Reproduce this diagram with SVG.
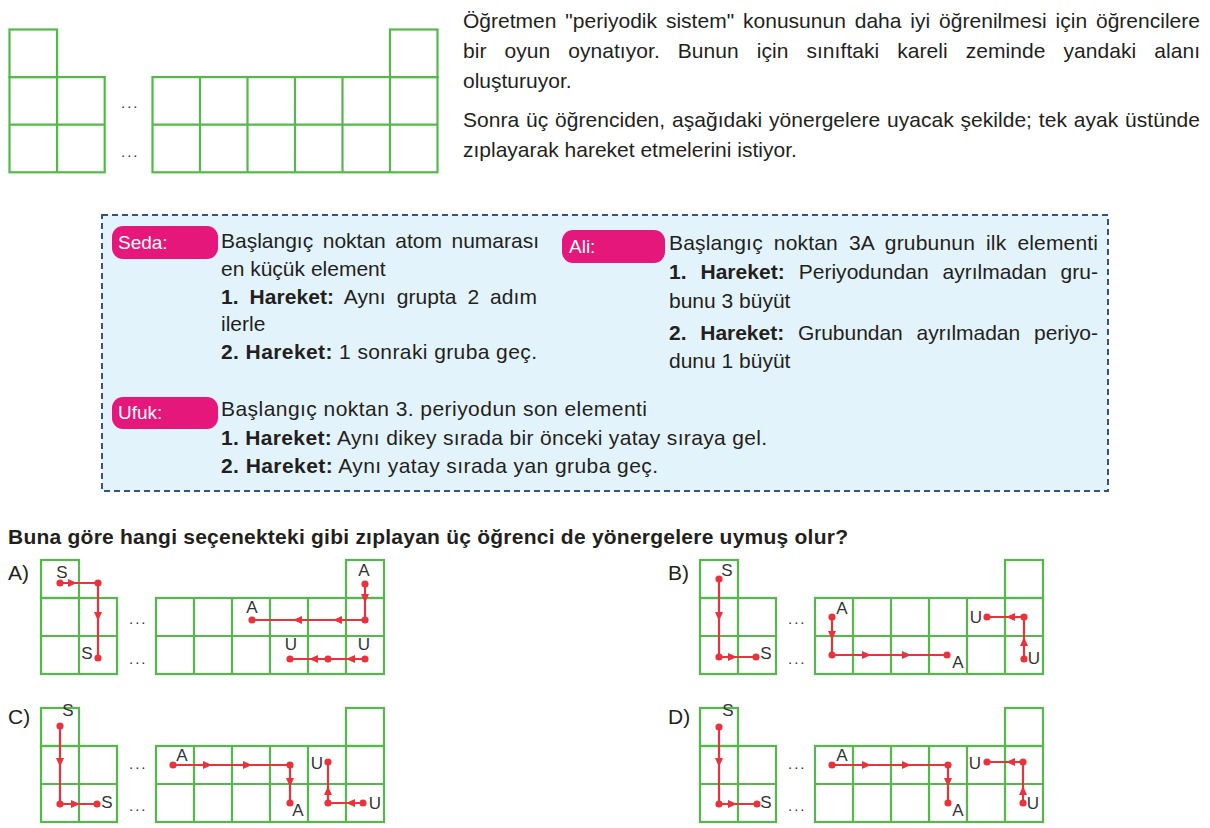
<svg xmlns="http://www.w3.org/2000/svg" xmlns:xlink="http://www.w3.org/1999/xlink" width="1210" height="828" viewBox="0 0 1210 828">
<style>
.t{font-family:"Liberation Sans",Arial,sans-serif;font-size:21px;fill:#231f20}
.b{font-weight:bold}
.gr{fill:none;stroke:#55b84a;stroke-width:2.2}
.rl{fill:none;stroke:#e8333d;stroke-width:2.2}
.lb{font-family:"Liberation Sans",Arial,sans-serif;font-size:17px;fill:#333;text-anchor:middle}
.pill{fill:#e5177b}
.pt{font-family:"Liberation Sans",Arial,sans-serif;font-size:19px;fill:#fff}
.dots{font-family:"Liberation Sans",Arial,sans-serif;font-size:15px;fill:#333;letter-spacing:2px}
.ol{font-family:"Liberation Sans",Arial,sans-serif;font-size:21px;fill:#231f20}
</style>
<defs>
<path id="ah" d="M-5,-4 L4,0 L-5,4 Z" fill="#e8333d"/>
<circle id="dt" r="3.6" fill="#e8333d"/>
<g id="sg" class="gr">
<rect x="0" y="0" width="38" height="38"/>
<rect x="0" y="38" width="76" height="76"/>
<path d="M38,38V114M0,76H76"/>
<rect x="115" y="38" width="228" height="76"/>
<path d="M153,38V114M191,38V114M229,38V114M267,38V114M305,38V114M115,76H343"/>
<rect x="305" y="0" width="38" height="38"/>
</g>
</defs>

<g id="top-grid" class="gr" transform="translate(9.5,29.5)">
<rect x="0" y="0" width="47.6" height="47.6"/>
<rect x="0" y="47.6" width="95.2" height="95.2"/>
<path d="M47.6,47.6V142.8M0,95.2H95.2"/>
<rect x="143" y="47.6" width="285" height="95.2"/>
<path d="M190.5,47.6V142.8M238,47.6V142.8M285.5,47.6V142.8M333,47.6V142.8M380.5,47.6V142.8M143,95.2H428"/>
<rect x="380.5" y="0" width="47.5" height="47.6"/>
</g>
<g id="top-dots">
<text class="dots" x="121" y="108">...</text>
<text class="dots" x="121" y="157">...</text>
</g>

<g id="intro" class="t">
<text x="463" y="28" word-spacing="3" textLength="737" lengthAdjust="spacing">Öğretmen "periyodik sistem" konusunun daha iyi öğrenilmesi için öğrencilere</text>
<text x="463" y="58" word-spacing="12" textLength="737" lengthAdjust="spacing">bir oyun oynatıyor. Bunun için sınıftaki kareli zeminde yandaki alanı</text>
<text x="463" y="88">oluşturuyor.</text>
<text x="463" y="127" word-spacing="1" textLength="737" lengthAdjust="spacing">Sonra üç öğrenciden, aşağıdaki yönergelere uyacak şekilde; tek ayak üstünde</text>
<text x="463" y="157">zıplayarak hareket etmelerini istiyor.</text>
</g>

<g id="rules-box">
<rect x="102" y="215" width="1006" height="276" fill="#e3f3fb" stroke="#34528a" stroke-width="2" stroke-dasharray="6,4"/>
</g>

<g id="seda">
<rect class="pill" x="112" y="226" width="106" height="33" rx="11"/>
<text class="pt" x="118" y="249">Seda:</text>
<g class="t">
<text x="221" y="248" word-spacing="3.7" textLength="318" lengthAdjust="spacing">Başlangıç noktan atom numarası</text>
<text x="221" y="276">en küçük element</text>
<text x="221" y="304" word-spacing="5" textLength="316" lengthAdjust="spacing"><tspan class="b">1. Hareket:</tspan> Aynı grupta 2 adım</text>
<text x="221" y="331">ilerle</text>
<text x="221" y="359" textLength="316" lengthAdjust="spacing"><tspan class="b">2. Hareket:</tspan> 1 sonraki gruba geç.</text>
</g>
</g>

<g id="ali">
<rect class="pill" x="562" y="230" width="103" height="33" rx="11"/>
<text class="pt" x="569" y="253">Ali:</text>
<g class="t">
<text x="669" y="250" word-spacing="5" textLength="429" lengthAdjust="spacing">Başlangıç noktan 3A grubunun ilk elementi</text>
<text x="669" y="279" word-spacing="8" textLength="429" lengthAdjust="spacing"><tspan class="b">1. Hareket:</tspan> Periyodundan ayrılmadan gru-</text>
<text x="669" y="308">bunu 3 büyüt</text>
<text x="669" y="340" word-spacing="8" textLength="429" lengthAdjust="spacing"><tspan class="b">2. Hareket:</tspan> Grubundan ayrılmadan periyo-</text>
<text x="669" y="368">dunu 1 büyüt</text>
</g>
</g>

<g id="ufuk">
<rect class="pill" x="112" y="397" width="106" height="32" rx="11"/>
<text class="pt" x="118" y="419">Ufuk:</text>
<g class="t">
<text x="221" y="416" textLength="426" lengthAdjust="spacing">Başlangıç noktan 3. periyodun son elementi</text>
<text x="221" y="445" textLength="546" lengthAdjust="spacing"><tspan class="b">1. Hareket:</tspan> Aynı dikey sırada bir önceki yatay sıraya gel.</text>
<text x="221" y="473" textLength="437" lengthAdjust="spacing"><tspan class="b">2. Hareket:</tspan> Aynı yatay sırada yan gruba geç.</text>
</g>
</g>

<g id="question">
<text class="t b" x="8" y="544" textLength="840" lengthAdjust="spacing">Buna göre hangi seçenekteki gibi zıplayan üç öğrenci de yönergelere uymuş olur?</text>
</g>

<g id="option-a">
<text class="ol" x="8" y="580">A)</text>
<use href="#sg" x="41" y="560"/>
<text class="dots" x="129" y="624">...</text>
<text class="dots" x="129" y="664">...</text>
<path class="rl" d="M60,583H98V658"/>
<path class="rl" d="M365,584V620H252"/>
<path class="rl" d="M365,659H290"/>
<use href="#dt" x="60" y="583"/><use href="#dt" x="98" y="583"/><use href="#dt" x="98" y="658"/>
<use href="#dt" x="365" y="584"/><use href="#dt" x="365" y="620"/><use href="#dt" x="252" y="620"/>
<use href="#dt" x="365" y="659"/><use href="#dt" x="328" y="659"/><use href="#dt" x="290" y="659"/>
<use href="#ah" transform="translate(73,583)"/>
<use href="#ah" transform="translate(98,617) rotate(90)"/>
<use href="#ah" transform="translate(365,599) rotate(90)"/>
<use href="#ah" transform="translate(337,620) rotate(180)"/>
<use href="#ah" transform="translate(297,620) rotate(180)"/>
<use href="#ah" transform="translate(350,659) rotate(180)"/>
<use href="#ah" transform="translate(313,659) rotate(180)"/>
<text class="lb" x="62" y="578">S</text>
<text class="lb" x="87" y="659">S</text>
<text class="lb" x="364" y="576">A</text>
<text class="lb" x="252" y="613">A</text>
<text class="lb" x="364" y="650">U</text>
<text class="lb" x="291" y="650">U</text>
</g>

<g id="option-b">
<text class="ol" x="668" y="580">B)</text>
<use href="#sg" x="700" y="560"/>
<text class="dots" x="788" y="624">...</text>
<text class="dots" x="788" y="664">...</text>
<path class="rl" d="M719,579V657H756"/>
<path class="rl" d="M832,617V655H947"/>
<path class="rl" d="M1024,659V617H987"/>
<use href="#dt" x="719" y="579"/><use href="#dt" x="719" y="657"/><use href="#dt" x="756" y="657"/>
<use href="#dt" x="832" y="617"/><use href="#dt" x="832" y="655"/><use href="#dt" x="947" y="655"/>
<use href="#dt" x="1024" y="659"/><use href="#dt" x="1024" y="617"/><use href="#dt" x="987" y="617"/>
<use href="#ah" transform="translate(719,617) rotate(90)"/>
<use href="#ah" transform="translate(733,657)"/>
<use href="#ah" transform="translate(832,636) rotate(90)"/>
<use href="#ah" transform="translate(867,655)"/>
<use href="#ah" transform="translate(907,655)"/>
<use href="#ah" transform="translate(1024,641) rotate(-90)"/>
<use href="#ah" transform="translate(1010,617) rotate(180)"/>
<text class="lb" x="727" y="576">S</text>
<text class="lb" x="766" y="659">S</text>
<text class="lb" x="842" y="614">A</text>
<text class="lb" x="958" y="668">A</text>
<text class="lb" x="976" y="623">U</text>
<text class="lb" x="1034" y="664">U</text>
</g>

<g id="option-c">
<text class="ol" x="8" y="724">C)</text>
<use href="#sg" x="41" y="708"/>
<text class="dots" x="129" y="769">...</text>
<text class="dots" x="129" y="811">...</text>
<path class="rl" d="M60,726V804H97"/>
<path class="rl" d="M173,765H290V803"/>
<path class="rl" d="M363,803H328V762"/>
<use href="#dt" x="60" y="726"/><use href="#dt" x="60" y="804"/><use href="#dt" x="97" y="804"/>
<use href="#dt" x="173" y="765"/><use href="#dt" x="290" y="765"/><use href="#dt" x="290" y="803"/>
<use href="#dt" x="363" y="803"/><use href="#dt" x="328" y="803"/><use href="#dt" x="328" y="762"/>
<use href="#ah" transform="translate(60,763) rotate(90)"/>
<use href="#ah" transform="translate(76,804)"/>
<use href="#ah" transform="translate(208,765)"/>
<use href="#ah" transform="translate(248,765)"/>
<use href="#ah" transform="translate(290,783) rotate(90)"/>
<use href="#ah" transform="translate(350,803) rotate(180)"/>
<use href="#ah" transform="translate(328,790) rotate(-90)"/>
<text class="lb" x="68" y="716">S</text>
<text class="lb" x="107" y="808">S</text>
<text class="lb" x="182" y="761">A</text>
<text class="lb" x="298" y="816">A</text>
<text class="lb" x="317" y="769">U</text>
<text class="lb" x="375" y="809">U</text>
</g>

<g id="option-d">
<text class="ol" x="668" y="724">D)</text>
<use href="#sg" x="700" y="708"/>
<text class="dots" x="788" y="769">...</text>
<text class="dots" x="788" y="811">...</text>
<path class="rl" d="M719,727V804H757"/>
<path class="rl" d="M832,765H948V803"/>
<path class="rl" d="M1023,803V762H987"/>
<use href="#dt" x="719" y="727"/><use href="#dt" x="719" y="804"/><use href="#dt" x="757" y="804"/>
<use href="#dt" x="832" y="765"/><use href="#dt" x="948" y="765"/><use href="#dt" x="948" y="803"/>
<use href="#dt" x="1023" y="803"/><use href="#dt" x="1023" y="762"/><use href="#dt" x="987" y="762"/>
<use href="#ah" transform="translate(719,763) rotate(90)"/>
<use href="#ah" transform="translate(733,804)"/>
<use href="#ah" transform="translate(867,765)"/>
<use href="#ah" transform="translate(907,765)"/>
<use href="#ah" transform="translate(948,783) rotate(90)"/>
<use href="#ah" transform="translate(1023,790) rotate(-90)"/>
<use href="#ah" transform="translate(1010,762) rotate(180)"/>
<text class="lb" x="728" y="716">S</text>
<text class="lb" x="766" y="808">S</text>
<text class="lb" x="842" y="761">A</text>
<text class="lb" x="958" y="816">A</text>
<text class="lb" x="975" y="769">U</text>
<text class="lb" x="1033" y="809">U</text>
</g>
</svg>
